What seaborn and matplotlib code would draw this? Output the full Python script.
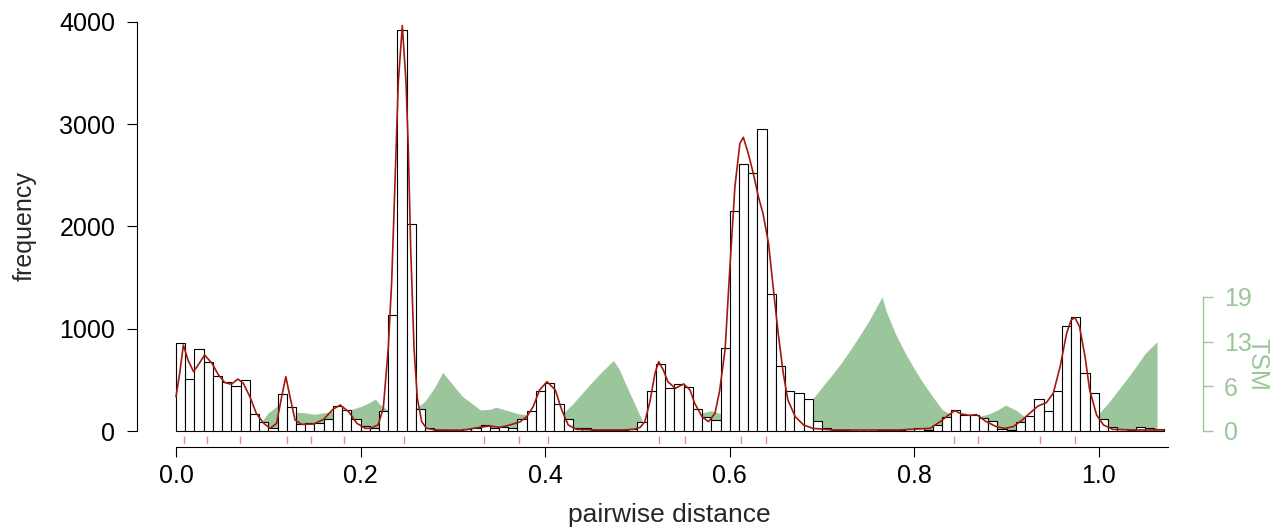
import numpy as np
import pandas as pd
import matplotlib
matplotlib.use("Agg")
import matplotlib.pyplot as plt
import seaborn as sns

# histogram: counts per bin of width 0.01, starting at 0.0
bin_width = 0.01
counts = [864, 505, 799, 678, 541, 476, 436, 502, 166, 90,
          25, 359, 238, 66, 75, 75, 114, 248, 204, 114,
          46, 32, 196, 1130, 3920, 2020, 215, 26, 10, 10,
          8, 16, 26, 55, 26, 36, 33, 115, 193, 388,
          467, 261, 115, 34, 34, 10, 5, 5, 10, 16,
          85, 391, 654, 417, 463, 432, 216, 140, 108, 807,
          2148, 2608, 2520, 2950, 1343, 639, 394, 372, 311, 93,
          33, 10, 5, 4, 4, 4, 5, 10, 8, 18,
          26, 12, 55, 140, 202, 153, 160, 124, 98, 20,
          14, 91, 150, 313, 199, 388, 1030, 1115, 564, 375,
          120, 36, 16, 14, 36, 26, 15]

# density curve (frequency scale)
dens_x = [0.0, 0.004, 0.008, 0.013, 0.019, 0.024, 0.031, 0.039, 0.046, 0.053,
          0.060, 0.067, 0.073, 0.080, 0.087, 0.095, 0.102, 0.109, 0.1145, 0.119,
          0.1235, 0.129, 0.136, 0.149, 0.160, 0.170, 0.178, 0.187, 0.196, 0.205,
          0.210, 0.219, 0.2246, 0.230, 0.2337, 0.2373, 0.2409, 0.2452, 0.2492, 0.2517,
          0.2543, 0.2579, 0.2615, 0.2662, 0.2716, 0.282, 0.311, 0.329, 0.340, 0.351,
          0.362, 0.373, 0.380, 0.387, 0.394, 0.402, 0.411, 0.418, 0.425, 0.434,
          0.456, 0.485, 0.496, 0.503, 0.508, 0.5135, 0.519, 0.523, 0.528, 0.533,
          0.541, 0.550, 0.557, 0.562, 0.570, 0.577, 0.584, 0.589, 0.595, 0.600,
          0.6056, 0.611, 0.6147, 0.620, 0.6255, 0.631, 0.636, 0.642, 0.647, 0.6525,
          0.658, 0.663, 0.671, 0.680, 0.690, 0.712, 0.784, 0.817, 0.828, 0.837,
          0.844, 0.851, 0.860, 0.8675, 0.878, 0.889, 0.898, 0.907, 0.916, 0.925,
          0.934, 0.943, 0.9505, 0.958, 0.965, 0.970, 0.974, 0.979, 0.985, 0.990,
          0.9975, 1.005, 1.015, 1.037, 1.070]
dens_y = [336, 564, 841, 694, 580, 645, 743, 662, 548, 473,
          457, 508, 466, 336, 173, 75, 26, 75, 336, 531,
          336, 108, 65, 68, 114, 212, 254, 189, 75, 26,
          26, 59, 222, 809, 1460, 2438, 3416, 3964, 3416, 2765,
          1787, 809, 320, 91, 26, 10, 8, 36, 49, 36,
          59, 91, 140, 238, 401, 482, 401, 205, 59, 16,
          10, 10, 16, 36, 91, 287, 564, 678, 597, 482,
          417, 460, 401, 271, 140, 91, 173, 390, 800, 1575,
          2389, 2813, 2872, 2716, 2520, 2292, 2129, 1836, 1411, 955,
          564, 303, 140, 59, 26, 10, 10, 26, 91, 156,
          199, 166, 153, 160, 91, 42, 26, 42, 101, 173,
          244, 277, 368, 629, 955, 1086, 1108, 1020, 727, 401,
          156, 59, 16, 10, 10]

# TSM profile (right axis)
tsm_x = [0.085, 0.09, 0.10, 0.11, 0.12, 0.13, 0.14, 0.15, 0.16, 0.17,
         0.18, 0.19, 0.20, 0.21, 0.216, 0.22, 0.23, 0.24, 0.25, 0.26,
         0.27, 0.28, 0.289, 0.30, 0.31, 0.32, 0.33, 0.34, 0.347, 0.36,
         0.37, 0.38, 0.39, 0.40, 0.41, 0.42, 0.43, 0.44, 0.45, 0.46,
         0.474, 0.48, 0.49, 0.50, 0.506, 0.51, 0.52, 0.53, 0.54, 0.55,
         0.56, 0.57, 0.58, 0.59, 0.60, 0.61, 0.62, 0.63, 0.64, 0.65,
         0.66, 0.67, 0.68, 0.69, 0.70, 0.71, 0.72, 0.73, 0.74, 0.75,
         0.765, 0.77, 0.78, 0.79, 0.80, 0.81, 0.82, 0.83, 0.84, 0.85,
         0.86, 0.87, 0.88, 0.89, 0.899, 0.91, 0.92, 0.93, 0.94, 0.95,
         0.96, 0.97, 0.98, 0.99, 1.00, 1.01, 1.02, 1.03, 1.04, 1.05,
         1.063]
tsm_y = [0.0, 0.9, 2.6, 3.6, 3.2, 2.7, 2.6, 2.4, 2.6, 2.8,
         2.9, 3.1, 3.5, 4.1, 4.6, 3.9, 2.9, 2.5, 2.6, 3.2,
         4.3, 6.2, 8.4, 6.6, 5.0, 4.0, 3.0, 3.1, 3.4, 2.9,
         2.5, 2.3, 2.1, 2.1, 2.2, 2.6, 3.9, 5.4, 6.9, 8.3,
         10.1, 8.9, 5.9, 3.0, 1.2, 0.8, 0.9, 1.1, 1.3, 1.6,
         2.1, 2.6, 2.9, 2.5, 2.2, 2.0, 2.0, 2.1, 2.4, 2.8,
         3.2, 3.6, 4.0, 4.6, 6.3, 7.9, 9.6, 11.5, 13.5, 15.6,
         19.2, 17.0, 13.8, 11.2, 8.9, 6.8, 4.9, 3.1, 2.3, 2.0,
         2.0, 2.1, 2.4, 3.0, 3.7, 3.0, 2.0, 1.5, 1.2, 1.0,
         1.0, 1.1, 1.4, 1.9, 2.5, 4.0, 5.7, 7.4, 9.2, 11.1,
         12.8]

# rug marks below the histogram
rug_x = [0.0086, 0.0338, 0.0689, 0.1206, 0.1465, 0.1816, 0.2472, 0.334, 0.3718,
         0.4036, 0.5229, 0.552, 0.6123, 0.6388, 0.843, 0.8694, 0.9364, 0.9742]

x_ticks = [0.0, 0.2, 0.4, 0.6, 0.8, 1.0]
y_ticks = [0, 1000, 2000, 3000, 4000]
tsm_ticks = [0, 6.4, 12.8, 19.2]
tsm_labels = ["0", "6", "13", "19"]

sns.set_style("white")
plt.rcParams['font.family'] = ['Liberation Sans', 'DejaVu Sans']

green = "#9bc59b"
red = "#a3180f"

n_bins = len(counts)
x_max = n_bins * bin_width
centers = np.arange(n_bins) * bin_width + bin_width / 2
hist_df = pd.DataFrame({"distance": centers, "count": counts})

fig = plt.figure(figsize=(12.87, 5.30), dpi=100)
# plot region: x 136.5..1203 px, y 5.6..444 px
ax = fig.add_axes([136.5 / 1287, 86 / 530, 1066.5 / 1287, 438.4 / 530])
ax2 = ax.twinx()
ax.set_zorder(ax2.get_zorder() + 1)
ax.patch.set_visible(False)

# TSM area behind the bars
ax2.fill_between(tsm_x, tsm_y, color=green, lw=0)

sns.histplot(data=hist_df, x="distance", weights="count", bins=n_bins,
             binrange=(0, x_max), color="white", edgecolor="black",
             linewidth=0.8, alpha=1, ax=ax)
sns.lineplot(x=dens_x, y=dens_y, color=red, lw=1.2, ax=ax)
sns.rugplot(x=rug_x, height=0.0183, color="#d04848", alpha=0.6, lw=1,
            expand_margins=False, ax=ax)

# limits: 0 -> y=431px, 4000 -> 22px ; TSM 19.2 -> 297px
ax.set_xlim(-0.0428, 1.1128)
ax.set_ylim(-127.1, 4159.6)
ax2.set_ylim(-1.863, 60.95)

for s in ["top", "right"]:
    ax.spines[s].set_visible(False)
for s in ["top", "left", "bottom"]:
    ax2.spines[s].set_visible(False)
ax.spines["left"].set_bounds(0, 4000)
ax.spines["bottom"].set_bounds(0, 1.075)
ax.spines["bottom"].set_position(("outward", 2.4))
for s in ["left", "bottom"]:
    ax.spines[s].set_color("black")
    ax.spines[s].set_linewidth(0.8)

ax.set_xticks(x_ticks, [f"{v:.1f}" for v in x_ticks])
ax.set_yticks(y_ticks, [str(v) for v in y_ticks])
ax.tick_params(axis="x", length=7.2, width=0.8, pad=5, labelsize=18, colors="black", bottom=True)
ax.tick_params(axis="y", length=7.2, width=0.8, pad=8, labelsize=18, colors="black", left=True)
ax.set_xlabel("pairwise distance", fontsize=19)
ax.set_ylabel("frequency", fontsize=18)
ax.xaxis.set_label_coords(0.4993, -0.1346)
ax.yaxis.set_label_coords(-0.0933, 0.497)

ax2.spines["right"].set_color(green)
ax2.spines["right"].set_linewidth(1.0)
ax2.spines["right"].set_bounds(0, 19.2)
ax2.set_yticks(tsm_ticks, tsm_labels)
ax2.tick_params(axis="y", colors=green, length=7.2, width=1.0, pad=8, labelsize=18, right=True)
ax2.set_ylabel("TSM", rotation=270, color=green, fontsize=18)
ax2.yaxis.set_label_coords(1.0628, 0.1825)

fig.savefig("out.png", dpi=100)
